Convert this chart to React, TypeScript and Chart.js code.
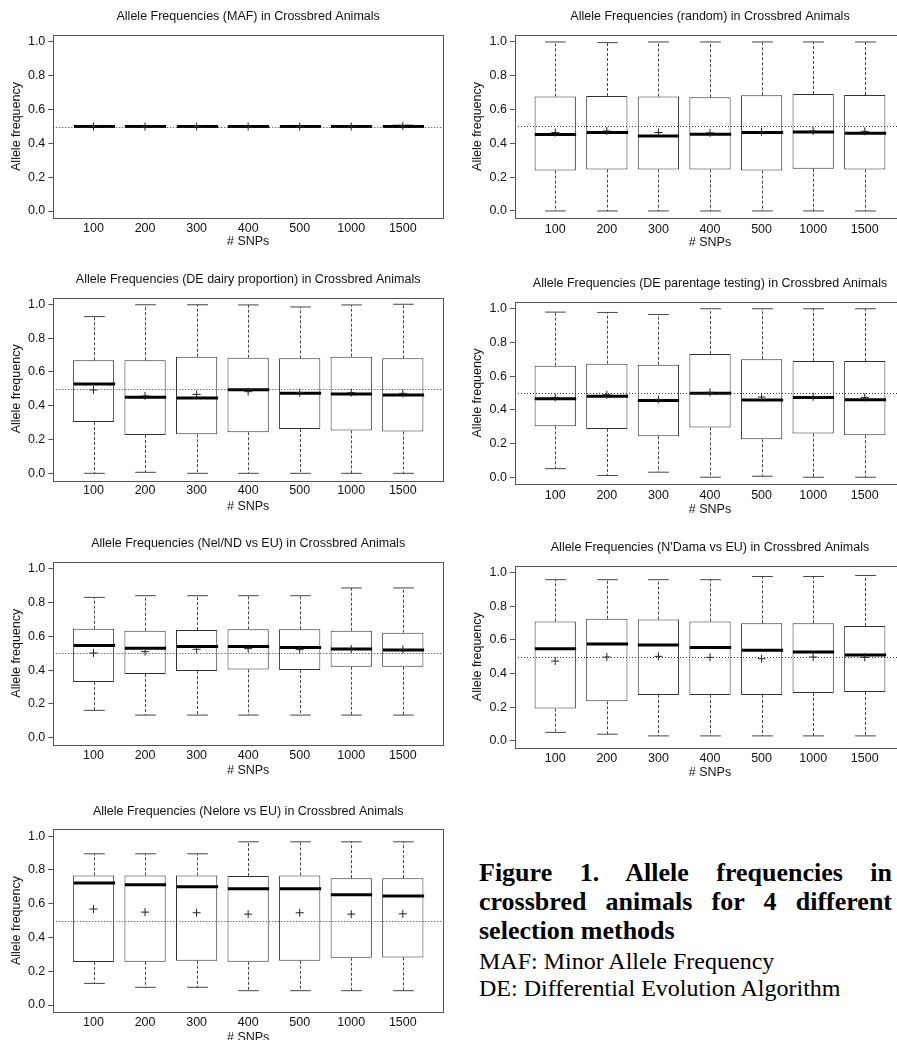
import React, { useEffect, useRef } from 'react';
import { Chart, registerables } from 'chart.js';

Chart.register(...registerables);

// ---------- data ----------
const snpLabels = ['100', '200', '300', '400', '500', '1000', '1500'];
const yTickValues = [0, 0.2, 0.4, 0.6, 0.8, 1.0];
const referenceLine = 0.5;

// MAF
const mafMin = [0.5, 0.5, 0.5, 0.5, 0.5, 0.5, 0.5];
const mafQ1 = [0.5, 0.5, 0.5, 0.5, 0.5, 0.5, 0.5];
const mafMedian = [0.5, 0.5, 0.5, 0.5, 0.5, 0.5, 0.5];
const mafQ3 = [0.5, 0.5, 0.5, 0.5, 0.5, 0.5, 0.506];
const mafMax = [0.5, 0.5, 0.5, 0.5, 0.5, 0.5, 0.508];
const mafMean = [0.5, 0.5, 0.5, 0.5, 0.5, 0.5, 0.502];

// random
const randMin = [0, 0, 0, 0, 0, 0, 0];
const randQ1 = [0.239, 0.245, 0.245, 0.245, 0.239, 0.25, 0.245];
const randMedian = [0.452, 0.464, 0.444, 0.454, 0.464, 0.467, 0.46];
const randQ3 = [0.677, 0.68, 0.677, 0.673, 0.684, 0.692, 0.686];
const randMax = [1.0, 0.996, 1.0, 1.0, 1.0, 1.0, 1.0];
const randMean = [0.464, 0.473, 0.464, 0.462, 0.469, 0.473, 0.471];

// DE dairy proportion
const dairyMin = [0, 0.006, 0, 0, 0, 0, 0];
const dairyQ1 = [0.304, 0.227, 0.231, 0.243, 0.262, 0.254, 0.247];
const dairyMedian = [0.529, 0.45, 0.446, 0.495, 0.473, 0.469, 0.464];
const dairyQ3 = [0.669, 0.669, 0.69, 0.684, 0.68, 0.69, 0.68];
const dairyMax = [0.927, 0.997, 0.997, 0.996, 0.984, 0.996, 1.0];
const dairyMean = [0.493, 0.458, 0.467, 0.483, 0.477, 0.477, 0.473];

// DE parentage testing
const parentMin = [0.051, 0.01, 0.03, 0, 0.006, 0, 0];
const parentQ1 = [0.302, 0.287, 0.243, 0.296, 0.225, 0.259, 0.249];
const parentMedian = [0.466, 0.48, 0.455, 0.498, 0.458, 0.474, 0.46];
const parentQ3 = [0.662, 0.674, 0.668, 0.731, 0.7, 0.69, 0.69];
const parentMax = [0.98, 0.978, 0.966, 1.0, 1.0, 1.0, 1.0];
const parentMean = [0.474, 0.49, 0.462, 0.504, 0.476, 0.478, 0.474];

// Nel/ND vs EU
const nelndMin = [0.162, 0.134, 0.134, 0.134, 0.134, 0.134, 0.134];
const nelndQ1 = [0.329, 0.377, 0.394, 0.404, 0.4, 0.42, 0.42];
const nelndMedian = [0.546, 0.529, 0.54, 0.54, 0.533, 0.525, 0.519];
const nelndQ3 = [0.645, 0.633, 0.637, 0.641, 0.641, 0.633, 0.621];
const nelndMax = [0.83, 0.84, 0.84, 0.84, 0.84, 0.886, 0.886];
const nelndMean = [0.501, 0.509, 0.523, 0.527, 0.521, 0.525, 0.522];

// N'Dama vs EU
const ndamaMin = [0.051, 0.04, 0.03, 0.03, 0.03, 0.03, 0.03];
const ndamaQ1 = [0.192, 0.235, 0.273, 0.273, 0.273, 0.285, 0.291];
const ndamaMedian = [0.547, 0.575, 0.569, 0.555, 0.538, 0.528, 0.51];
const ndamaQ3 = [0.709, 0.725, 0.721, 0.709, 0.698, 0.698, 0.682];
const ndamaMax = [0.957, 0.957, 0.957, 0.957, 0.976, 0.976, 0.982];
const ndamaMean = [0.474, 0.498, 0.502, 0.496, 0.488, 0.498, 0.496];

// Nelore vs EU
const neloreMin = [0.128, 0.105, 0.105, 0.085, 0.085, 0.085, 0.085];
const neloreQ1 = [0.254, 0.256, 0.262, 0.256, 0.262, 0.28, 0.282];
const neloreMedian = [0.722, 0.712, 0.7, 0.688, 0.688, 0.653, 0.645];
const neloreQ3 = [0.767, 0.767, 0.767, 0.763, 0.767, 0.751, 0.751];
const neloreMax = [0.895, 0.895, 0.895, 0.966, 0.966, 0.966, 0.966];
const neloreMean = [0.568, 0.55, 0.546, 0.538, 0.546, 0.538, 0.54];

// ---------- layout ----------
type Stats = { min: number[]; q1: number[]; med: number[]; q3: number[]; max: number[]; mean: number[] };
type Geo = { side: 'left' | 'right'; titleY: number; top: number; bottom: number; tickY: number; xlabY: number };
type Panel = { title: string; stats: Stats; geo: Geo };

const panels: Panel[] = [
  {
    title: 'Allele Frequencies (MAF) in Crossbred Animals',
    stats: { min: mafMin, q1: mafQ1, med: mafMedian, q3: mafQ3, max: mafMax, mean: mafMean },
    geo: { side: 'left', titleY: 17, top: 35.2, bottom: 217.8, tickY: 229, xlabY: 241.8 },
  },
  {
    title: 'Allele Frequencies (random) in Crossbred Animals',
    stats: { min: randMin, q1: randQ1, med: randMedian, q3: randQ3, max: randMax, mean: randMean },
    geo: { side: 'right', titleY: 16.7, top: 34.9, bottom: 217.4, tickY: 229, xlabY: 242.5 },
  },
  {
    title: 'Allele Frequencies (DE dairy proportion) in Crossbred Animals',
    stats: { min: dairyMin, q1: dairyQ1, med: dairyMedian, q3: dairyQ3, max: dairyMax, mean: dairyMean },
    geo: { side: 'left', titleY: 280, top: 297.5, bottom: 480.1, tickY: 491, xlabY: 506.3 },
  },
  {
    title: 'Allele Frequencies (DE parentage testing) in Crossbred Animals',
    stats: { min: parentMin, q1: parentQ1, med: parentMedian, q3: parentQ3, max: parentMax, mean: parentMean },
    geo: { side: 'right', titleY: 284, top: 302, bottom: 484, tickY: 495.3, xlabY: 509.3 },
  },
  {
    title: 'Allele Frequencies (Nel/ND vs EU) in Crossbred Animals',
    stats: { min: nelndMin, q1: nelndQ1, med: nelndMedian, q3: nelndQ3, max: nelndMax, mean: nelndMean },
    geo: { side: 'left', titleY: 544.3, top: 562.2, bottom: 744.8, tickY: 756, xlabY: 770.5 },
  },
  {
    title: "Allele Frequencies (N'Dama vs EU) in Crossbred Animals",
    stats: { min: ndamaMin, q1: ndamaQ1, med: ndamaMedian, q3: ndamaQ3, max: ndamaMax, mean: ndamaMean },
    geo: { side: 'right', titleY: 548.3, top: 566, bottom: 748, tickY: 759.3, xlabY: 773.3 },
  },
  {
    title: 'Allele Frequencies (Nelore vs EU) in Crossbred Animals',
    stats: { min: neloreMin, q1: neloreQ1, med: neloreMedian, q3: neloreQ3, max: neloreMax, mean: neloreMean },
    geo: { side: 'left', titleY: 811.7, top: 829, bottom: 1011.5, tickY: 1022.7, xlabY: 1037 },
  },
];

const FONT = "'Liberation Sans', Arial, Helvetica, sans-serif";
const FS = 12.5;
const LH = FS * 1.2;
const TEXT = '#111';

function BoxPanel({ panel }: { panel: Panel }) {
  const ref = useRef<HTMLCanvasElement | null>(null);
  const g = panel.geo;
  const left = g.side === 'left';
  const canvasLeft = left ? 0 : 450;
  const canvasWidth = left ? 448 : 460;
  const plotLeft = left ? 53.3 : 515;
  const plotRight = plotLeft + 390.5;
  const canvasTop = g.titleY - 17;
  const topRel = g.top - canvasTop;
  const bottomRel = g.bottom - canvasTop;
  const canvasHeight = Math.ceil(bottomRel + (g.xlabY - g.bottom) + LH / 2 + 2);
  const xAxisH = canvasHeight - bottomRel;
  const xTitlePadBottom = xAxisH - (g.xlabY - g.bottom) - LH / 2;
  const titlePadTop = 17 - LH / 2;
  const titlePadBottom = topRel - titlePadTop - LH;
  const tickPad = g.tickY - g.bottom - LH / 2;
  const yTitleX = left ? 17 : 28;

  useEffect(() => {
    const canvas = ref.current;
    if (!canvas) return;
    const s = panel.stats;

    const boxExtras = {
      id: 'boxExtras',
      afterDatasetDraw(chart: any, args: any) {
        if (args.index !== 0) return;
        const { ctx } = chart;
        const x = chart.scales.x;
        const y = chart.scales.y;
        const halfBox = x.getPixelForValue(1.4) - x.getPixelForValue(1);
        const halfCap = x.getPixelForValue(1.2) - x.getPixelForValue(1);
        ctx.save();
        for (let i = 0; i < snpLabels.length; i++) {
          const cx = Math.round(x.getPixelForValue(i + 1)) + 0.5;
          const yMax = y.getPixelForValue(s.max[i]);
          const yMin = y.getPixelForValue(s.min[i]);
          const yQ3 = y.getPixelForValue(s.q3[i]);
          const yQ1 = y.getPixelForValue(s.q1[i]);
          const yMed = y.getPixelForValue(s.med[i]);
          // whiskers (dashed)
          ctx.strokeStyle = '#444';
          ctx.lineWidth = 1;
          ctx.setLineDash([3, 2]);
          ctx.beginPath();
          ctx.moveTo(cx, yQ3);
          ctx.lineTo(cx, yMax);
          ctx.moveTo(cx, yQ1);
          ctx.lineTo(cx, yMin);
          ctx.stroke();
          // staples
          ctx.setLineDash([]);
          ctx.beginPath();
          ctx.moveTo(cx - halfCap, yMax);
          ctx.lineTo(cx + halfCap, yMax);
          ctx.moveTo(cx - halfCap, yMin);
          ctx.lineTo(cx + halfCap, yMin);
          ctx.stroke();
          // median
          ctx.strokeStyle = '#000';
          ctx.lineWidth = 3;
          ctx.beginPath();
          ctx.moveTo(cx - halfBox, yMed);
          ctx.lineTo(cx + halfBox, yMed);
          ctx.stroke();
        }
        ctx.restore();
      },
      afterDatasetsDraw(chart: any) {
        const { ctx, chartArea } = chart;
        const y = chart.scales.y;
        const yRef = Math.round(y.getPixelForValue(referenceLine)) + 0.5;
        ctx.save();
        ctx.strokeStyle = '#333';
        ctx.lineWidth = 1;
        ctx.setLineDash([1, 2]);
        ctx.beginPath();
        ctx.moveTo(chartArea.left, yRef);
        ctx.lineTo(chartArea.right, yRef);
        ctx.stroke();
        ctx.setLineDash([]);
        ctx.strokeStyle = '#555';
        ctx.strokeRect(
          Math.round(chartArea.left) + 0.5,
          Math.round(chartArea.top) + 0.5,
          Math.round(chartArea.right - chartArea.left),
          Math.round(chartArea.bottom - chartArea.top)
        );
        ctx.restore();
      },
    };

    const chart = new Chart(canvas, {
      type: 'bar',
      data: {
        datasets: [
          {
            type: 'bar',
            order: 1,
            data: snpLabels.map((_, i) => ({ x: i + 1, y: [s.q1[i], s.q3[i]] })) as any,
            backgroundColor: '#ffffff',
            borderColor: '#333',
            borderWidth: 1,
            borderSkipped: false,
            barPercentage: 0.8,
            categoryPercentage: 1,
          },
          {
            type: 'scatter',
            order: 0,
            data: snpLabels.map((_, i) => ({ x: i + 1, y: s.mean[i] })) as any,
            pointStyle: 'cross',
            pointRadius: 4,
            pointBorderColor: '#222',
            pointBorderWidth: 1,
            pointBackgroundColor: '#222',
          } as any,
        ],
      },
      options: {
        responsive: false,
        animation: false,
        devicePixelRatio: 1,
        layout: { padding: { left: 0, right: canvasWidth - (plotRight - canvasLeft), top: 0, bottom: 0 } },
        plugins: {
          legend: { display: false },
          tooltip: { enabled: false },
          title: {
            display: true,
            text: panel.title,
            fullSize: false,
            color: TEXT,
            font: { family: FONT, size: FS, weight: 'normal', lineHeight: 1.2 },
            padding: { top: titlePadTop, bottom: titlePadBottom },
          },
        },
        scales: {
          x: {
            type: 'linear',
            min: 0.22,
            max: 7.78,
            offset: false,
            afterBuildTicks: (scale: any) => {
              scale.ticks = snpLabels.map((_, i) => ({ value: i + 1 }));
            },
            afterFit: (scale: any) => {
              scale.height = xAxisH;
            },
            grid: { display: false, drawTicks: false },
            border: { display: false },
            ticks: {
              autoSkip: false,
              maxRotation: 0,
              minRotation: 0,
              padding: tickPad,
              color: TEXT,
              font: { family: FONT, size: FS, lineHeight: 1.2 },
              callback: (v: any) => snpLabels[Math.round(Number(v)) - 1] ?? '',
            },
            title: {
              display: true,
              text: '# SNPs',
              color: TEXT,
              font: { family: FONT, size: FS, lineHeight: 1.2 },
              padding: { top: 0, bottom: xTitlePadBottom },
            },
          },
          y: {
            type: 'linear',
            min: -0.04,
            max: 1.04,
            afterBuildTicks: (scale: any) => {
              scale.ticks = yTickValues.map((v) => ({ value: v }));
            },
            afterFit: (scale: any) => {
              scale.width = plotLeft - canvasLeft;
            },
            grid: { display: true, drawOnChartArea: false, drawTicks: true, tickLength: 5, tickColor: '#555', lineWidth: 1 },
            border: { display: false },
            ticks: {
              padding: 3,
              color: TEXT,
              font: { family: FONT, size: FS, lineHeight: 1.2 },
              callback: (v: any) => Number(v).toFixed(1),
            },
            title: {
              display: true,
              text: 'Allele frequency',
              color: TEXT,
              font: { family: FONT, size: FS, lineHeight: 1.2 },
              padding: { top: yTitleX - LH / 2, bottom: 0 },
            },
          },
        },
      } as any,
      plugins: [boxExtras as any],
    });
    return () => chart.destroy();
  }, [panel]);

  return (
    <canvas
      ref={ref}
      width={canvasWidth}
      height={canvasHeight}
      style={{ position: 'absolute', left: canvasLeft, top: canvasTop, width: canvasWidth, height: canvasHeight }}
    />
  );
}

const captionBold = ['Figure 1. Allele frequencies in', 'crossbred animals for 4 different', 'selection methods'];
const captionNotes = ['MAF: Minor Allele Frequency', 'DE: Differential Evolution Algorithm'];

export default function App() {
  return (
    <div
      style={{
        position: 'absolute',
        left: 0,
        top: 0,
        width: 897,
        height: 1040,
        overflow: 'hidden',
        background: '#ffffff',
      }}
    >
      {panels.map((p, i) => (
        <BoxPanel key={i} panel={p} />
      ))}
      <div
        style={{
          position: 'absolute',
          left: 479,
          top: 858.4,
          width: 413,
          fontFamily: "'Liberation Serif', 'Times New Roman', serif",
          fontWeight: 'bold',
          fontSize: 26,
          lineHeight: '29px',
          color: '#000',
        }}
      >
        {captionBold.map((t, i) => (
          <div key={i} style={{ textAlign: i < 2 ? 'justify' : 'left', textAlignLast: i < 2 ? 'justify' : 'left', whiteSpace: 'nowrap' }}>
            {t}
          </div>
        ))}
      </div>
      <div
        style={{
          position: 'absolute',
          left: 479,
          top: 947.7,
          width: 413,
          fontFamily: "'Liberation Serif', 'Times New Roman', serif",
          fontSize: 24,
          lineHeight: '27px',
          color: '#000',
        }}
      >
        {captionNotes.map((t, i) => (
          <div key={i} style={{ whiteSpace: 'nowrap' }}>{t}</div>
        ))}
      </div>
    </div>
  );
}
